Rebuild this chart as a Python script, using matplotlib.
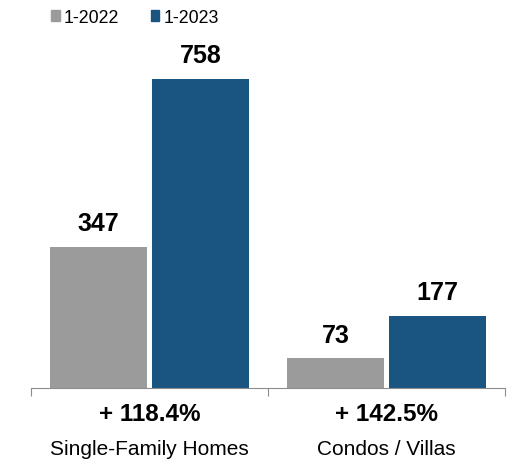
import numpy as np
import matplotlib.pyplot as plt
from matplotlib.patches import Patch

plt.rcParams['font.family'] = ['Liberation Sans', 'DejaVu Sans']

# Closed sales by property type
categories = ['Single-Family Homes', 'Condos / Villas']
series_names = ['1-2022', '1-2023']
values_2022 = [347, 73]
values_2023 = [758, 177]
changes = ['+ 118.4%', '+ 142.5%']
colors = ['#9b9b9b', '#1a5582']

fig = plt.figure(figsize=(5.1, 4.6), dpi=100)
ax = fig.add_axes([31/510, 71/460, 474/510, 349/460])

x = np.arange(len(categories))
w = 0.41
b1 = ax.bar(x - 0.215, values_2022, w, color=colors[0])
b2 = ax.bar(x + 0.215, values_2023, w, color=colors[1])
for bars in (b1, b2):
    for r in bars:
        ax.annotate(f'{int(r.get_height())}', (r.get_x() + r.get_width()/2, r.get_height()),
                    xytext=(0, 12), textcoords='offset points',
                    ha='center', va='baseline', fontsize=18, fontweight='bold')

ax.set_xlim(-0.5, 1.5)
ax.set_ylim(0, 856)
for s in ['top', 'right', 'left']:
    ax.spines[s].set_visible(False)
ax.spines['bottom'].set_color('#8c8c8c')
ax.set_yticks([])
ax.set_xticks([-0.5, 0.5, 1.5])
ax.set_xticklabels([])
ax.tick_params(axis='x', length=6, color='#8c8c8c', direction='out')

# percent change and category names below the axis
for i, cat in enumerate(categories):
    ax.annotate(changes[i], (i, 0), xytext=(0, -18.5), textcoords='offset points',
                ha='center', va='center', fontsize=17.5, fontweight='bold')
    ax.annotate(cat, (i, 0), xytext=(0, -43.5), textcoords='offset points',
                ha='center', va='center', fontsize=15)

handles = [Patch(color=c) for c in colors]
fig.legend(handles, series_names, loc='upper left', bbox_to_anchor=(41/510, 1.0),
           ncol=2, frameon=False, fontsize=12.8, handlelength=0.5, handleheight=0.5,
           handletextpad=0.25, columnspacing=1.75, borderaxespad=0.15)

fig.savefig('out.png', dpi=100)
